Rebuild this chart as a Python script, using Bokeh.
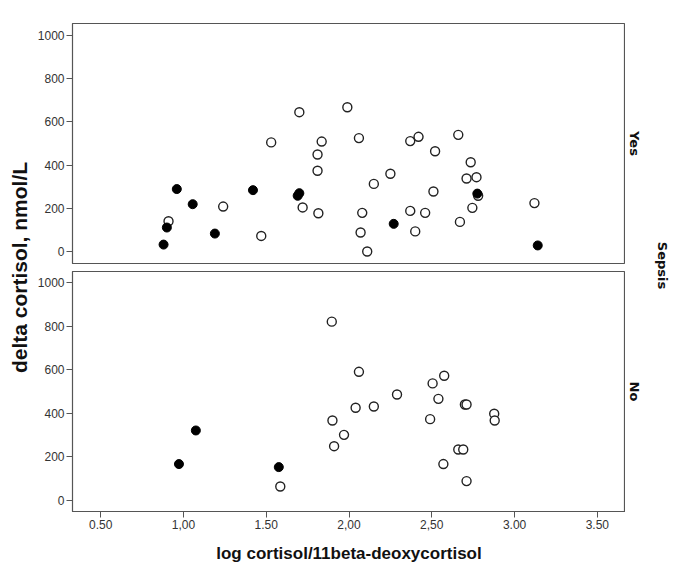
import math
from bokeh.plotting import figure
from bokeh.layouts import row, column
from bokeh.models import Range1d, FixedTicker, Label
from bokeh.embed import file_html
from bokeh.resources import INLINE

# ---- data ----
x_ticks = [0.5, 1.0, 1.5, 2.0, 2.5, 3.0, 3.5]
x_tick_labels = ["0.50", "1,00", "1.50", "2,00", "2,50", "3.00", "3.50"]
y_ticks = [0, 200, 400, 600, 800, 1000]

# Sepsis = Yes, open circles
yes_open_x = [1.70, 1.99, 1.53, 1.835, 1.81, 1.81, 1.24, 1.72, 1.815, 0.91, 1.47, 2.06,
              2.08, 2.07, 2.37, 2.42, 2.66, 2.52, 2.735, 2.71, 2.77, 2.25, 2.15, 2.51,
              2.37, 2.46, 2.745, 3.12, 2.40, 2.67, 2.11, 2.78]
yes_open_y = [645, 668, 505, 509, 449, 374, 208, 204, 177, 140, 72, 525,
              179, 88, 511, 531, 540, 464, 413, 338, 344, 360, 313, 278,
              188, 179, 202, 224, 93, 137, 0, 258]
# Sepsis = Yes, filled circles
yes_fill_x = [0.96, 1.056, 1.42, 1.70, 1.69, 0.90, 1.19, 0.88, 2.775, 2.27, 3.14]
yes_fill_y = [289, 219, 284, 270, 258, 111, 83, 32, 268, 128, 28]

# Sepsis = No, open circles
no_open_x = [1.896, 2.06, 2.04, 1.90, 1.97, 1.91, 1.585, 2.15, 2.29, 2.505, 2.575, 2.54,
             2.49, 2.70, 2.71, 2.877, 2.88, 2.66, 2.69, 2.57, 2.71]
no_open_y = [820, 590, 425, 367, 301, 249, 64, 431, 486, 537, 572, 466,
             373, 440, 440, 398, 367, 234, 234, 167, 89]
# Sepsis = No, filled circles
no_fill_x = [1.075, 0.973, 1.576]
no_fill_y = [321, 167, 153]

FONT = "Liberation Sans"
DARK = "#333333"
FRAME = "#555555"


def panel(ys_range, top_border, bottom_border, show_x):
    p = figure(frame_width=553, frame_height=240,
               x_range=Range1d(0.33, 3.67), y_range=Range1d(*ys_range),
               min_border_left=38, min_border_right=0,
               min_border_top=top_border, min_border_bottom=bottom_border,
               x_axis_location="below" if show_x else None,
               toolbar_location=None, output_backend="svg")
    p.grid.visible = False
    p.outline_line_color = FRAME
    p.outline_line_width = 1.2
    p.background_fill_color = "white"
    p.border_fill_color = "white"
    ya = p.yaxis[0]
    ya.ticker = FixedTicker(ticks=y_ticks)
    ya.minor_tick_line_color = None
    ya.major_tick_out = 6
    ya.major_tick_in = 0
    ya.major_tick_line_color = FRAME
    ya.axis_line_color = FRAME
    ya.major_label_standoff = 2
    ya.major_label_text_font = FONT
    ya.major_label_text_font_size = "12px"
    ya.major_label_text_color = DARK
    if show_x:
        xa = p.xaxis[0]
        xa.ticker = FixedTicker(ticks=x_ticks)
        xa.major_label_overrides = {t: l for t, l in zip(x_ticks, x_tick_labels)}
        xa.minor_tick_line_color = None
        xa.major_tick_out = 6
        xa.major_tick_in = 0
        xa.major_tick_line_color = FRAME
        xa.axis_line_color = FRAME
        xa.major_label_standoff = 2
        xa.major_label_text_font = FONT
        xa.major_label_text_font_size = "12px"
        xa.major_label_text_color = DARK
        xa.axis_label = "log cortisol/11beta-deoxycortisol"
        xa.axis_label_text_font = FONT
        xa.axis_label_text_font_style = "bold"
        xa.axis_label_text_font_size = "17px"
        xa.axis_label_text_color = "#111111"
        xa.axis_label_standoff = 12
    return p


top = panel((-55.6, 1055.6), 23, 4, False)
top.scatter(yes_open_x, yes_open_y, size=9, marker="circle",
            fill_color="white", line_color="#222222", line_width=1.4)
top.scatter(yes_fill_x, yes_fill_y, size=9, marker="circle",
            fill_color="#000000", line_color="#000000", line_width=1.0)

bottom = panel((-50.5, 1050.0), 4, 62, True)
bottom.scatter(no_open_x, no_open_y, size=9, marker="circle",
               fill_color="white", line_color="#222222", line_width=1.4)
bottom.scatter(no_fill_x, no_fill_y, size=9, marker="circle",
               fill_color="#000000", line_color="#000000", line_width=1.0)

H = 573


def side(width):
    p = figure(width=width, height=H, x_range=Range1d(0, width), y_range=Range1d(0, H),
               min_border=0, x_axis_location=None, y_axis_location=None,
               toolbar_location=None, output_backend="svg")
    p.grid.visible = False
    p.outline_line_color = None
    p.border_fill_color = "white"
    return p


left = side(34)
left.add_layout(Label(x=19, y=H - 267, text="delta cortisol, nmol/L", angle=math.pi / 2,
                      text_align="center", text_baseline="middle",
                      text_font=FONT, text_font_style="bold",
                      text_font_size="21px", text_color="#111111"))

right = side(52)
for txt, xx, yy in [("Yes", 9, 143), ("No", 9, 391), ("Sepsis", 37, 265)]:
    right.add_layout(Label(x=xx, y=H - yy, text=txt, angle=-math.pi / 2,
                           text_align="center", text_baseline="middle",
                           text_font="DejaVu Sans", text_font_style="bold",
                           text_font_size="13px", text_color="#111111"))

layout = row(left, column(top, bottom), right)

open("out.html", "w").write(file_html(layout, INLINE))
